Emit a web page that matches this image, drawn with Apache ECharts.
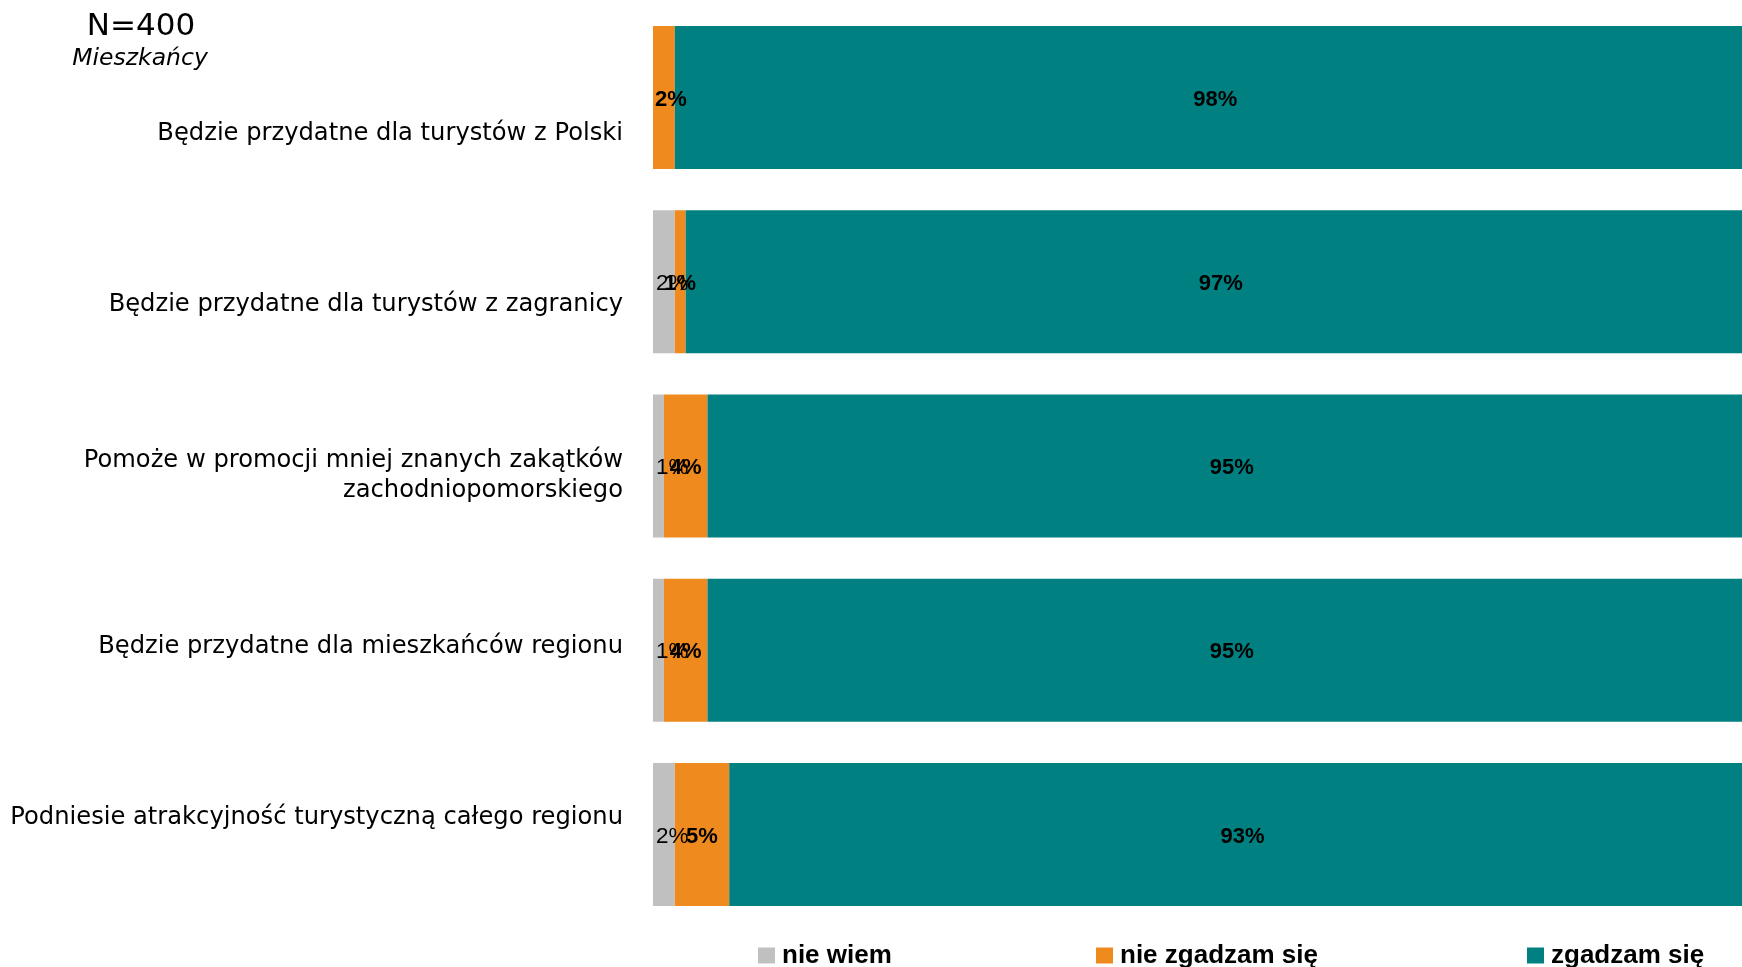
<!DOCTYPE html>
<html>
<head>
<meta charset="utf-8">
<title>Mieszkańcy – ocena</title>
<script src="https://cdn.jsdelivr.net/npm/echarts@6/dist/echarts.min.js"></script>
<style>
  html, body { margin: 0; padding: 0; background: #fff; }
  #chart { width: 1742px; height: 967px; }
</style>
</head>
<body>
<div id="chart"></div>
<script>
// Statements shown on the category axis (top to bottom)
const categories = [
  'Będzie przydatne dla turystów z Polski',
  'Będzie przydatne dla turystów z zagranicy',
  'Pomoże w promocji mniej znanych zakątków\nzachodniopomorskiego',
  'Będzie przydatne dla mieszkańców regionu',
  'Podniesie atrakcyjność turystyczną całego regionu'
];

// Answer shares in percent
const nieWiem    = [0, 2, 1, 1, 2];
const nieZgadzam = [2, 1, 4, 4, 5];
const zgadzam    = [98, 97, 95, 95, 93];

const seriesNames = ['nie wiem', 'nie zgadzam się', 'zgadzam się'];
const colors = ['#C0C0C0', '#EE8A1E', '#008080'];

const pct = p => (p.value ? p.value + '%' : '');
const labelBase = {
  show: true,
  formatter: pct,
  color: '#000',
  fontFamily: 'Liberation Sans, Arial, sans-serif',
  fontSize: 22,
  fontWeight: 'bold',
  offset: [0, 2]
};

// The orange label slides to the bar start when there is no grey segment before it
const orangeData = nieZgadzam.map((v, i) => ({
  value: v,
  label: nieWiem[i] === 0 ? { position: 'insideLeft', distance: 2 } : { position: 'inside' }
}));

const chart = echarts.init(document.getElementById('chart'), null, { renderer: 'canvas' });

// Plot area runs a little past the right edge of the canvas
chart.setOption({
  animation: false,
  backgroundColor: '#fff',
  grid: [
    { left: 653, width: 1103, top: 5.4, bottom: 40.4 },
    { left: 653, width: 1103, top: 48, bottom: 64 }
  ],
  xAxis: [
    { gridIndex: 0, type: 'value', min: 0, max: 100, show: false },
    { gridIndex: 1, type: 'value', min: 0, max: 1, show: false }
  ],
  yAxis: [
    { gridIndex: 0, type: 'category', data: categories, inverse: true, show: false },
    {
      gridIndex: 1,
      type: 'category',
      data: categories,
      inverse: true,
      axisLine: { show: false },
      axisTick: { show: false },
      splitLine: { show: false },
      axisLabel: {
        color: '#000',
        fontFamily: 'DejaVu Sans, Verdana, sans-serif',
        fontSize: 24.2,
        lineHeight: 30,
        margin: 30,
        align: 'right'
      }
    }
  ],
  legend: seriesNames.map((name, i) => ({
    data: [name],
    left: [758, 1096, 1527][i],
    top: 942.5,
    padding: 0,
    icon: 'rect',
    itemWidth: 17,
    itemHeight: 16,
    selectedMode: false,
    textStyle: {
      color: '#000',
      fontFamily: 'Liberation Sans, Arial, sans-serif',
      fontSize: 26,
      fontWeight: 'bold',
      lineHeight: 25,
      padding: [0, 0, 0, 2]
    }
  })),
  series: [
    {
      name: seriesNames[0],
      type: 'bar',
      stack: 'total',
      barWidth: 143,
      itemStyle: { color: colors[0] },
      label: Object.assign({}, labelBase, {
        position: 'insideLeft',
        distance: 3,
        fontSize: 22.5,
        fontWeight: 'normal'
      }),
      data: nieWiem
    },
    {
      name: seriesNames[1],
      type: 'bar',
      stack: 'total',
      barWidth: 143,
      itemStyle: { color: colors[1] },
      label: Object.assign({}, labelBase, { position: 'inside' }),
      data: orangeData
    },
    {
      name: seriesNames[2],
      type: 'bar',
      stack: 'total',
      barWidth: 143,
      itemStyle: { color: colors[2] },
      label: Object.assign({}, labelBase, { position: 'inside', offset: [7, 2] }),
      data: zgadzam
    }
  ],
  graphic: [
    {
      type: 'text',
      x: 141,
      y: 26.5,
      style: {
        text: 'N=400',
        align: 'center',
        verticalAlign: 'middle',
        fill: '#000',
        font: '31px "DejaVu Sans", Verdana, sans-serif'
      }
    },
    {
      type: 'text',
      x: 140,
      y: 59,
      style: {
        text: 'Mieszkańcy',
        align: 'center',
        verticalAlign: 'middle',
        fill: '#000',
        font: 'italic 23.5px "DejaVu Sans", Verdana, sans-serif'
      }
    }
  ]
});
</script>
</body>
</html>
